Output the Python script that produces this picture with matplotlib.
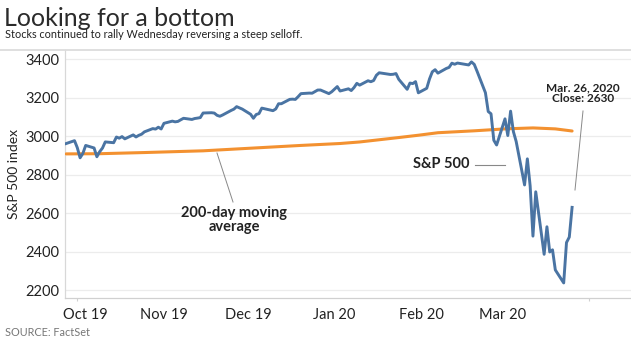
import pandas as pd
import matplotlib.pyplot as plt
from matplotlib.lines import Line2D

# --Data--

holidays = ['2019-11-28', '2019-12-25', '2020-01-01', '2020-01-20', '2020-02-17']
dates = pd.bdate_range('2019-09-27', '2020-03-26', freq='C', holidays=holidays)

closes = [
    2961.79, 2976.74,
    # Oct 19
    2940.25, 2887.61, 2910.63, 2952.01, 2938.79, 2893.06, 2919.40, 2938.13, 2970.27, 2966.15,
    2995.68, 2989.69, 2997.95, 2986.20, 3006.72, 2995.99, 3004.52, 3010.29, 3022.55, 3039.42,
    3036.89, 3046.77, 3037.56,
    # Nov 19
    3066.91, 3078.27, 3074.62, 3076.78, 3085.18, 3093.08, 3087.01, 3091.84, 3094.04, 3096.63,
    3120.46, 3122.03, 3120.18, 3108.46, 3103.54, 3110.29, 3133.64, 3140.52, 3153.63, 3140.98,
    # Dec 19
    3113.87, 3093.20, 3112.76, 3117.43, 3145.91, 3135.96, 3132.52, 3141.63, 3168.57, 3168.80,
    3191.45, 3192.52, 3191.14, 3205.37, 3221.22, 3224.01, 3223.38, 3239.91, 3240.02, 3221.29,
    3230.78,
    # Jan 20
    3257.85, 3234.85, 3246.28, 3237.18, 3253.05, 3274.70, 3265.35, 3288.13, 3283.15, 3289.29,
    3316.81, 3329.62, 3320.79, 3321.75, 3325.54, 3295.47, 3243.63, 3276.24, 3273.40, 3283.66,
    3225.52,
    # Feb 20
    3248.92, 3297.59, 3334.69, 3345.78, 3327.71, 3352.09, 3357.75, 3379.45, 3373.94, 3380.16,
    3370.29, 3386.15, 3373.23, 3337.75, 3225.89, 3128.21, 3116.39, 2978.76, 2954.22,
    # Mar 20
    3090.23, 3003.37, 3130.12, 3023.94, 2972.37, 2746.56, 2882.23, 2741.38, 2480.64, 2711.02,
    2386.13, 2529.19, 2398.10, 2409.39, 2304.92, 2237.40, 2447.33, 2475.56, 2630.07,
]

ma_dates = pd.to_datetime([
    '2019-09-27', '2019-10-09', '2019-10-25', '2019-11-15', '2019-12-05', '2019-12-20',
    '2020-01-03', '2020-01-10', '2020-01-24', '2020-01-31', '2020-02-07', '2020-02-20',
    '2020-03-02', '2020-03-12', '2020-03-20', '2020-03-26'])
ma_values = [2908, 2909, 2915, 2924, 2940, 2952, 2962, 2970, 2993, 3005, 3018, 3028,
             3038, 3043, 3038, 3027]

yticks = [2200, 2400, 2600, 2800, 3000, 3200, 3400]
xtick_dates = pd.to_datetime(['2019-10-04', '2019-11-01', '2019-12-01', '2020-01-01',
                              '2020-02-01', '2020-03-01'])
xtick_labels = ['Oct 19', 'Nov 19', 'Dec 19', 'Jan 20', 'Feb 20', 'Mar 20']
month_starts = pd.date_range('2019-10-01', '2020-04-01', freq='MS')

# --Plotting--

W, H = 631, 341
plt.rcParams['font.family'] = ['Lato', 'DejaVu Sans']
fig = plt.figure(figsize=(W / 100, H / 100), dpi=100)

def fx(px):
    return px / W

def fy(py):
    return 1 - py / H

ax = fig.add_axes([fx(65), fy(298), fx(631) - fx(65), fy(50) - fy(298)])

blue = '#4a74a3'
orange = '#f39130'
ink = '#222222'

ax.plot(ma_dates, ma_values, color=orange, lw=2.2, solid_capstyle='round', zorder=3)
ax.plot(dates, closes, color=blue, lw=2.1, solid_joinstyle='round', zorder=4)

# 3400 ~ y59, 2200 ~ y290 in the reference
ax.set_ylim(2159, 3448)
ax.set_xlim(pd.Timestamp('2019-09-27') - pd.Timedelta(days=0.4),
            pd.Timestamp('2019-09-27') + pd.Timedelta(days=(631 - 66) / 2.796))

ax.set_yticks(yticks)
ax.set_yticklabels([str(v) for v in yticks])
ax.set_xticks(xtick_dates)
ax.set_xticklabels(xtick_labels)
ax.set_xticks(month_starts, minor=True)
ax.tick_params(axis='y', length=0, pad=4, labelsize=10.5, labelcolor=ink)
ax.tick_params(axis='x', which='major', length=0, pad=7, labelsize=10.5, labelcolor=ink)
ax.tick_params(axis='x', which='minor', length=2, width=0.8, color='#d0d0d0')

ax.grid(axis='y', color='#ececec', lw=0.9)
ax.set_axisbelow(True)
for s in ['top', 'right']:
    ax.spines[s].set_visible(False)
ax.spines['left'].set_color('#d8d8d8')
ax.spines['bottom'].set_color('#d0d0d0')
ax.spines['left'].set_linewidth(0.9)
ax.spines['bottom'].set_linewidth(0.9)

ax.set_ylabel('S&P 500 index', fontsize=10, color=ink, labelpad=4)

# header
fig.text(fx(4), fy(18), 'Looking for a bottom', fontsize=18, color='#2b2b2b',
         va='center', ha='left')
fig.text(fx(5), fy(35), 'Stocks continued to rally Wednesday reversing a steep selloff.',
         fontsize=7.8, color=ink, va='center', ha='left')
fig.add_artist(Line2D([0, 1], [fy(49.5), fy(49.5)], color='#dcdcdc', lw=1.3))
fig.text(fx(5), fy(332), 'SOURCE: FactSet', fontsize=7.8, color='#777777',
         va='center', ha='left')

# annotations
fig.text(fx(234), fy(220), '200-day moving\naverage', fontsize=10.5, fontweight='bold',
         color=ink, ha='center', va='center', linespacing=1.0)
fig.add_artist(Line2D([fx(217), fx(233)], [fy(153), fy(202)], color='#888888', lw=0.7))

fig.text(fx(441), fy(164), 'S&P 500', fontsize=10.5, fontweight='bold', color=ink,
         ha='center', va='center')
fig.add_artist(Line2D([fx(475), fx(505)], [fy(165), fy(165)], color='#888888', lw=0.8))

fig.text(fx(583), fy(93), 'Mar. 26, 2020\nClose: 2630', fontsize=8.5, fontweight='bold',
         color=ink, ha='center', va='center', linespacing=1.0)
fig.add_artist(Line2D([fx(583), fx(575)], [fy(111), fy(190)], color='#888888', lw=0.7))

fig.savefig('out.png', dpi=100)
